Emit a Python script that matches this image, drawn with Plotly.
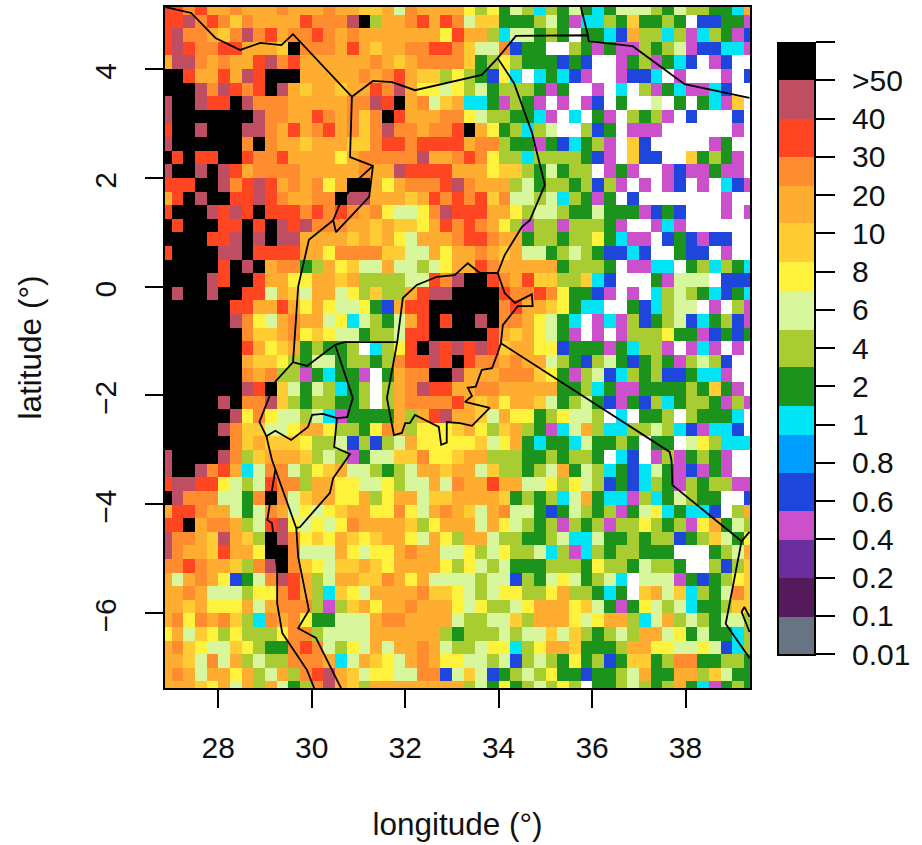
import plotly.graph_objects as go

W, H = 922, 845
FONT = "Liberation Sans"
FS = 30

LEVEL_CODES = "xdPmbscGvpygoORrk"  # low to high; w = no data
LEVEL_COLORS = ["#687483", "#551a5c", "#6a2f9c", "#cc4fcc", "#1e46dc", "#009fff", "#00e5f5",
                "#1c931c", "#a8cc32", "#d8f79c", "#fff23c", "#ffcd33", "#ffad30", "#ff8c2e",
                "#ff4522", "#bf4e62", "#000000"]
LEVEL_LABELS = ["0.01", "0.1", "0.2", "0.4", "0.6", "0.8", "1", "2", "4", "6", "8", "10",
                "20", "30", "40", ">50", ""]
BAR_EDGES = [0, 0.97, 1.99, 2.98, 3.74, 4.73, 5.73, 6.48, 7.50, 8.47, 9.49, 10.25,
             11.27, 12.24, 13.0, 13.99, 15.0, 16.0]

ROWS_WEST = [
"RRORooOooo OoooOooggo pOoooo", "RRrOROgOoo ooROOOrkvo oORoRO", "RrOOogOrOR oOOROoOooo ooooyR",
"RrROORRooo gkOOOoRogo oOORRO", "orrOoOooRr ORooooooOo goOOOO", "kkRooRorRk kkoooooOoO Roggvy",
"kkkrOrRORk rogoogooRO royypy", "rkkrRRkrOO OoooooOOrR koOpgo", "rkkkkkkkrO OooROoOgOk RoooOO",
"RkkrkkkrrO oRoORoOgOr OOoOOR", "rkkkkkkOkO oogoooggOR RORRRR", "kRkRRkkROO RooooyoOOO OOrooO",
"rkkrkrRoOO OOoooooOoo rRRRRo", "RRRkkrORrR oOoOyokkoy oOOORr", "oRkrkkRRrR OooOOkrroo ogoROR",
"RkkkrRrRkR RROROROoOy ppyOrR", "kRkkkRRkRk rRrOOOoogo ggyoRO", "kkkkRRrkrk rroooogogo ypoooO",
"RkkkkrrkRR RRooyOOOOg gppoyo", "kkkkkRkrko OOGvoygppo ppvpyo", "kkkkrRkkRo oyyoogovvv vppROr",
"krkkrkkRRp ogpoopyvgv voRrrk", "kkkkkkRRoo RoyoyppyGb oRRkkk", "kkkkkkrOyp oOoopycpvG poRkRk",
"kkkkkkkOgg oOygyppGvv pRRkkk", "kkkkkkkRoy goGvGGvwcv yRkrRr", "kkkkkkkogg yvGppGvvGv ORRrRk",
"kkkkkkkOoO vvmGcGGmwG oOOkkr", "kkkkkkkrRk gpGpvcGvwv oOrRRo", "kkkkkrkOOr gvGvvGGvwv oOOOOR",
"kkkkkkryOy ppvpcmGGGG ovoRro", "kkkkkrOggp pyooyvvGyO ovyyyg", "kkkkkkOgog ggyvvpbvbv poyyyy",
"rkkkkrOvgo oogvpvmGpp ggOyyg", "rkkrORocpO OpvygoppvG vpoogo", "RrrRRypvpR OOvooyyppy vppopO",
"krOOOppGOk Opgooyyovy oopggo", "oRROoopGpO opypygooyy OypoOo", "RRkoOOovpR rypypyOooo ogvyoo",
"rOOogrogvk rOygyogygo oypoyv", "rOoogRooyk kOpppoypyy oOoopp", "OOROoogvOr kOgypggogy ooooyv",
"opoOoybGpO rRovpooggO oyoppp", "ooOopppvyy ORovcgypoo ooOggy", "oogoyyyopo OOOvmvgoyo oOoooy",
"oOyOoOgvcO oOyGGpppoO Ooooop", "yopgyvyvvv yOOvppppoo oooovG", "oOgyppgyvG GOROpvypop ooOopv",
"oogpOpovpv vOOOocpogy poOoyy", "oOopooyovp ovORrogpyy ppOObp", "ooogyopovo pGvOrogvoo oooooo",
]
ROWS_EAST = [
"yvyGpvcvGp GcGpppvGpv vGGco", "pggGGGvpGm ccvGgGGvGw bbGGm", "oovcppGvGw GGcbovvcvm cvGmb",
"gppObGGwwv GmGmmvGvpm bbccm", "gGvyvGGGbG bwwmGvmGcb wmbww", "vGbycwcGcb mwwmbbcwmw wwmwb",
"vpGvvvGmGw wmwcwvmGcm mcbww", "ccGmvGmwmw mbwGwwpwGw Gcmgw", "ypvvGGcmwc wGmwvGvmwb wwwbw",
"koyGvcvpww vbGwmmmwww wwwmw", "oOOvGGmGbc Gvmwgbwwww wmGww", "ROyvvcvvvv Gbmwgbbwwg GvGmw",
"ooyggvGpGv vwmGmwwmbm mGmmw", "OooovpGvvG vbvmwmwmbw mwcbm", "ORgOppvpcv GmGwbwwwww wwmww",
"RRooyvppvG GpGGGmbGbw wwmwm", "ROoyvmvvmv vvGmwwmcmw wwwww", "RROooGvvGv vyGcmmwbGb mbbww",
"oOogoppGvp vGbbcbwwGb bwmww", "oROoooooGv vvGwmmccwG vcvGc", "kkROoRggvv gcbwwwGmpp pwbbb",
"kkkROOROyG Gbmwmwcvpv GcbGc", "kkkORoogyG ccwwGbcvpp wmwvm", "krkOOoypGc wmcmvbGvpb cGvbm",
"kkRogoypGm wmwmvvvyGG mbGbG", "RrRgooyybG GGmGcvvmwm cmwmw", "ROOoOoopvG bvpGbGvGmv pvbww",
"oooOOOgyGm vpbcvGvbbG ccmww", "oOOoooooGG vcGmmGGGGv GgGmw", "ogoyoogpGv pGbmGbvcGv vGmvm",
"ogpoyyGvyp pvwcwGGvwv GGGcw", "oyvgovGmcp ovccvvpvcb mccbw", "ygpyoGcGGc pGGvGwGGwp yvccc",
"oovvvGGvGv vGwcbwmvmG vGmww", "opgvvGvpoG pvcGbcpGmb mGmww", "ooRooppyvy pvbGbcvGmv Gvvmm",
"ooogGvGvcp oGccmvcGpv GGwwb", "gpoOppGbGp vGvmGpycGc cbwvo", "opoypvGvmv GvmvvyvGvm yoGpv",
"oopvvGGvpc cpGGvGvvbG vgpGy", "yvpyvvpcvm cvGvvGGGww wGvpo", "ypvpGGGvvv GyvvGpvvGw wvbvg",
"pvppbvGpyp GvpcwpppmG bGvyg", "pvpyyvvyov vGcGwgopgc vGpOg", "pyvvpyoooy gpGmGypvpc GGvgg",
"vvppgvoooy pyoovcpovp vGppv", "vvvpvppgpg vGvpvoopyG pGGcv", "vpyycvyoog GGGvooyypp ypbcv",
"ppvpbvpvGy GvbGggGvOO GGvvG", "gpbGvpvyGG bGGvpoGGoo vgpGG", "vpGyGvpvyv wGGvpvGvoG cmGvG",
]

# Country borders and lake shores, degrees; None splits the paths
BORDER_LON = [26.87, 27.42, 27.94, 28.47, 28.90, 29.35, 29.60, 30.86, 31.31, 31.72, 32.21, 33.06, 33.64, 33.98,
              34.37, 35.91, 35.93, 36.87, 37.98, 39.37, None,
              35.76, 35.91, None,
              33.98, 34.33, 34.71, 34.99, 34.67, 34.50, 34.35, 34.13, 33.98, 33.60, 33.34, 33.06, 32.68, 32.25,
              31.95, 31.83, 30.71, 30.50, 29.90, 29.60, 29.22, 29.11, 28.88, 29.03, 29.22, 29.56, 29.92, 30.01,
              30.24, 30.54, 30.76, 30.88, 30.50, None,
              30.54, 30.48, 30.82, 30.46, 30.39, 29.75, 29.67, None,
              29.03, 29.15, 29.67, 29.71, 29.94, 29.71, 30.09, 30.65, None,
              29.22, 29.05, 29.15, 29.26, 29.26, 29.37, 29.90, 30.07, None,
              30.86, 30.82, 31.31, 31.23, 30.52, 30.46, 30.61, 31.03, 31.31, None,
              30.46, 29.94, 29.71, 29.60, None,
              33.98, 34.13, 34.35, 34.71, 34.73, 34.41, 34.09, 34.05, 33.98, 33.86, 33.64, 33.51, 33.34, 33.43,
              33.28, 33.81, 33.43, 33.17, 32.89, 32.89, 32.77, 32.72, 32.21, 32.10, 32.00, 31.93, 31.76, 31.61,
              31.83, None,
              34.05, 37.66, 37.70, 37.72, 39.20, 39.37, None,
              39.20, 38.86, 39.37, None,
              39.37, 39.26, 39.20, 39.37]
BORDER_LAT = [5.14, 5.03, 4.57, 4.35, 4.48, 4.44, 4.64, 3.49, 3.78, 3.76, 3.61, 3.78, 3.89, 4.20,
              4.61, 4.62, 4.51, 4.42, 3.72, 3.47, None,
              5.14, 4.62, None,
              4.20, 3.74, 2.84, 1.87, 1.22, 1.10, 0.89, 0.58, 0.25, 0.25, 0.43, 0.21, 0.18, 0.03,
              -0.21, -1.02, -1.02, -1.07, -1.46, -1.39, -1.75, -1.99, -2.49, -2.75, -2.65, -2.82, -2.58, -2.36,
              -2.34, -2.42, -2.40, -2.05, -1.07, None,
              -2.42, -2.95, -3.08, -3.52, -3.79, -4.42, -4.44, None,
              -2.75, -3.19, -4.44, -4.97, -5.95, -6.28, -6.46, -7.42, None,
              -3.37, -4.29, -4.35, -5.21, -5.82, -6.37, -7.05, -7.42, None,
              3.49, 2.38, 2.22, 1.65, 1.00, 1.22, 1.54, 2.00, 2.22, None,
              1.22, 0.86, 0.00, -1.39, None,
              0.25, -0.12, -0.30, -0.14, -0.36, -0.36, -0.71, -1.04, -1.22, -1.50, -1.53, -1.84, -1.86, -2.01,
              -2.12, -2.23, -2.56, -2.51, -2.49, -2.87, -2.91, -2.58, -2.36, -2.51, -2.51, -2.69, -2.73, -2.05,
              -1.02, None,
              -1.04, -3.04, -3.19, -3.65, -4.68, -4.51, None,
              -4.68, -6.20, -6.83, None,
              -6.07, -5.89, -5.98, -6.35]
LON_TICKS = [28, 30, 32, 34, 36, 38]
LAT_TICKS = [-6, -4, -2, 0, 2, 4]


def code_value(ch):
    return None if ch == "w" else LEVEL_CODES.index(ch)


rows = [(a + b).replace(" ", "") for a, b in zip(ROWS_WEST, ROWS_EAST)]
rows = [r[:51].ljust(51, r[-1]) for r in rows]
z = [[code_value(c) for c in r] for r in rows]
lon_c = [26.875 + 0.25 * i for i in range(51)]
lat_c = [5.125 - 0.25 * i for i in range(51)]

n = len(LEVEL_COLORS)
cscale = []
for i, c in enumerate(LEVEL_COLORS):
    cscale += [[i / n, c], [(i + 1) / n, c]]


def xf(px):
    return px / W


def yf(px):
    return 1 - px / H


fig = go.Figure()
fig.add_trace(go.Heatmap(x=lon_c, y=lat_c, z=z, colorscale=cscale, zmin=-0.5, zmax=n - 0.5,
                         showscale=False, hoverongaps=False))
fig.add_trace(go.Scatter(x=BORDER_LON, y=BORDER_LAT, mode="lines", connectgaps=False,
                         line=dict(color="black", width=1.8), showlegend=False))
fig.add_trace(go.Heatmap(x=[0, 1], y=BAR_EDGES, z=[[i] for i in range(n)], colorscale=cscale,
                         zmin=-0.5, zmax=n - 0.5, showscale=False, xaxis="x2", yaxis="y2"))

font = dict(family=FONT, size=FS, color="#111111")
title_font = dict(family=FONT, size=31.5, color="#111111")
fig.update_layout(
    width=W, height=H, margin=dict(l=0, r=0, t=0, b=0), paper_bgcolor="white", plot_bgcolor="white",
    font=font, showlegend=False,
    xaxis=dict(domain=[xf(165), xf(750)], range=[26.86, 39.38], tickvals=LON_TICKS, ticks="outside",
               ticklen=18, tickwidth=1.8, tickcolor="black", showgrid=False, zeroline=False, showline=True,
               linecolor="black", linewidth=1.6, mirror=True, ticklabelstandoff=14, tickfont=font,
               title=dict(text="longitude (°)", standoff=50, font=title_font), automargin=False),
    yaxis=dict(domain=[yf(688), yf(7)], range=[-7.38, 5.14], tickvals=LAT_TICKS, ticks="outside",
               ticklen=18, tickwidth=1.8, tickcolor="black", showgrid=False, zeroline=False, showline=True,
               linecolor="black", linewidth=1.6, mirror=True, tickangle=-90, ticklabelstandoff=17,
               ticklabelshift=7, tickfont=font,
               title=dict(text="latitude (°)", standoff=38, font=title_font), automargin=False),
    xaxis2=dict(domain=[xf(779), xf(814)], range=[0, 1], anchor="y2", showticklabels=False, ticks="",
                showgrid=False, zeroline=False, showline=True, linecolor="black", linewidth=2),
    yaxis2=dict(domain=[yf(654), yf(42)], range=[0, 16], anchor="x2", side="right",
                tickvals=list(range(17)), ticktext=LEVEL_LABELS, ticks="outside", ticklen=19, tickwidth=1.8,
                tickcolor="black", showgrid=False, zeroline=False, showline=True, linecolor="black",
                linewidth=2, mirror=True, ticklabelstandoff=11, tickfont=font, automargin=False),
)
fig.write_html("out.html", post_script="document.body.style.margin='0';",
               config={"displayModeBar": False})
